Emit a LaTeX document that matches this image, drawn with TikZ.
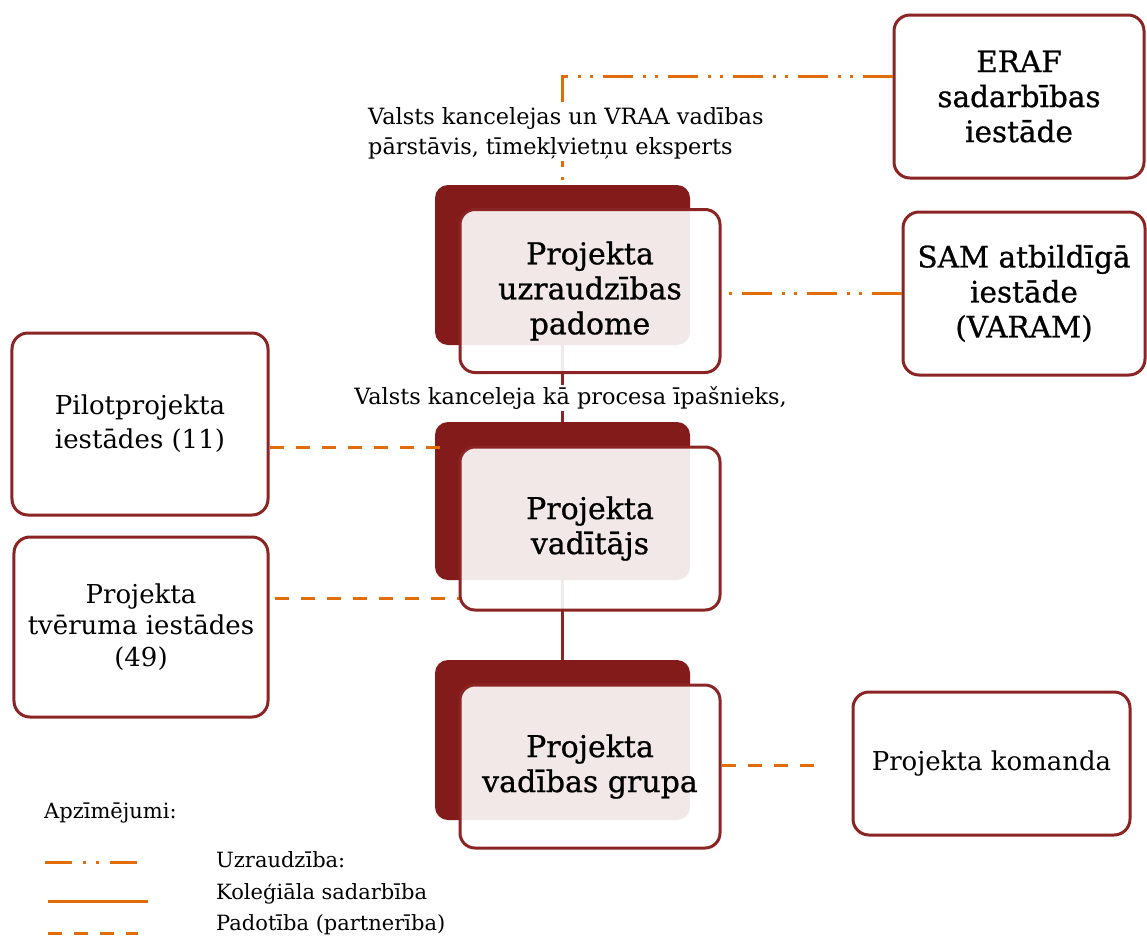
\documentclass[tikz,border=0pt]{standalone}
\usepackage{fontspec}
\setmainfont{DejaVu Serif}
\newfontfamily\heavyserif[FakeBold=0.8]{DejaVu Serif}
\usetikzlibrary{calc}
\definecolor{dkred}{HTML}{841B1B}
\definecolor{bord}{HTML}{8B2424}
\definecolor{orng}{HTML}{E36C0A}
\tikzset{
  backbox/.style={fill=dkred, draw=none, rounded corners=13bp, minimum width=255bp, minimum height=160bp},
  frontbox/.style={draw=bord, line width=3bp, fill=white, fill opacity=0.9, text opacity=1, rounded corners=15bp,
     minimum width=260bp, minimum height=163bp, align=center, font=\heavyserif\fontsize{30bp}{35bp}\selectfont},
  sidebox/.style={draw=bord, line width=3bp, fill=white, rounded corners=16bp, align=center},
  supv/.style={orng, line width=3bp, dash pattern=on 30bp off 10bp on 3bp off 9bp on 3bp off 10bp},
  subord/.style={orng, line width=3bp, dash pattern=on 14bp off 12bp},
  coll/.style={bord, line width=3bp},
  collleg/.style={orng, line width=3bp},
  lbl/.style={fill=white, inner sep=2bp, align=left, font=\fontsize{22.4bp}{30bp}\selectfont},
  legtxt/.style={anchor=west, inner sep=0pt, font=\fontsize{21bp}{25bp}\selectfont}
}
\begin{document}
\begin{tikzpicture}[x=1bp, y=-1bp]
\useasboundingbox (0,0) rectangle (1147,937);
% back boxes
\node[backbox] (b1) at (562.5,265) {};
\node[backbox, minimum height=158bp] (b2) at (562.5,501) {};
\node[backbox] (b3) at (562.5,740) {};
% collegial connectors (under front boxes)
\draw[coll] (b1.south) -- (b2.north);
\draw[coll] (b2.south) -- (b3.north);
% front boxes
\node[frontbox] (f1) at (590,291) {Projekta\\uzraudzības\\padome};
\node[frontbox] (f2) at (590,528.5) {Projekta\\vadītājs};
\node[frontbox] (f3) at (590,766.5) {Projekta\\vadības grupa};
% side boxes
\node[sidebox, minimum width=250bp, minimum height=163bp, font=\heavyserif\fontsize{29.5bp}{35bp}\selectfont] (eraf) at (1019,96.5) {ERAF\\sadarbības\\iestāde};
\node[sidebox, minimum width=242bp, minimum height=163bp, font=\heavyserif\fontsize{29.5bp}{35bp}\selectfont] (sam) at (1024,293.5) {SAM atbildīgā\\iestāde\\(VARAM)};
\node[sidebox, minimum width=256bp, minimum height=182bp, font=\fontsize{26bp}{34bp}\selectfont] (pilot) at (140,424) {Pilotprojekta\\iestādes (11)};
\node[sidebox, minimum width=254bp, minimum height=180bp, font=\fontsize{26bp}{31.5bp}\selectfont] (tver) at (141,627) {Projekta\\tvēruma iestādes\\(49)};
\node[sidebox, minimum width=277bp, minimum height=143bp, font=\fontsize{26bp}{31bp}\selectfont] (kom) at (991.5,763.5) {Projekta komanda};
% supervision connectors
\draw[supv] ($(eraf.north west)!0.38!(eraf.south west)$) -| (b1.north);
\draw[supv] (sam.west) -- (sam.west -| f1.east);
% subordination connectors
\coordinate (p1end) at (448,447);
\draw[subord] (pilot.east |- p1end) -- (p1end);
\coordinate (t1start) at (275,598);
\draw[subord] (t1start) -- (t1start -| f2.west);
\coordinate (komend) at (815,765);
\draw[subord] (f3.east |- komend) -- (komend);
% labels
\node[lbl, anchor=west] (l1) at (366,133) {Valsts kancelejas un VRAA vadības\\pārstāvis, tīmekļvietņu eksperts};
\node[lbl] (l2) at (570.5,398) {Valsts kanceleja kā procesa īpašnieks,};
% legend
\node[legtxt] (leg) at (44,813) {Apzīmējumi:};
\coordinate (s1a) at (45,862); \coordinate (s1b) at (142,862);
\coordinate (s2a) at (48,901); \coordinate (s2b) at (148,901);
\coordinate (s3a) at (48,933); \coordinate (s3b) at (138,933);
\draw[orng, line width=3bp, dash pattern=on 27bp off 11bp on 3bp off 10bp on 3bp off 11bp] (s1a) -- (s1b);
\draw[collleg] (s2a) -- (s2b);
\draw[subord] (s3a) -- (s3b);
\node[legtxt] (t1) at (216,860) {Uzraudzība:};
\node[legtxt] (t2) at (216,894) {Koleģiāla sadarbība};
\node[legtxt] (t3) at (216,925) {Padotība (partnerība)};
\end{tikzpicture}
\end{document}
